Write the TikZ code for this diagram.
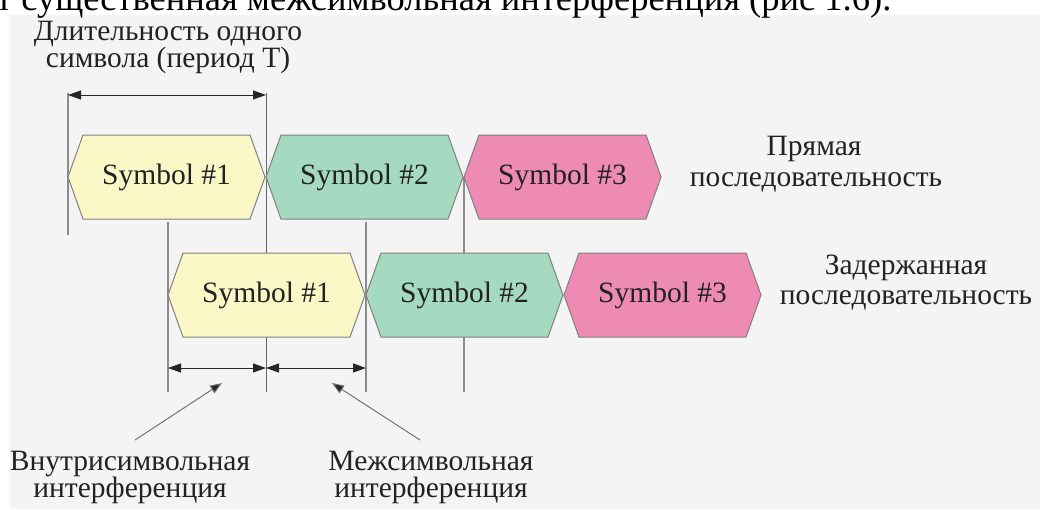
\documentclass[tikz,border=0pt]{standalone}
\usepackage{fontspec}
\setmainfont{Liberation Serif}
\usetikzlibrary{arrows.meta}
\definecolor{hexY}{HTML}{FBF8C8}
\definecolor{hexG}{HTML}{A6D9C1}
\definecolor{hexP}{HTML}{EE8BB3}
\definecolor{bgc}{HTML}{F4F4F4}
\definecolor{edgec}{HTML}{808080}
\definecolor{linec}{HTML}{8C8C8C}
\definecolor{txt}{HTML}{222222}
\newcommand\hexsym[5]{%
  \path[fill=#4, draw=edgec, line width=1pt]
    (#2,#3) -- ++(15,-42) -- ++(167,0) -- ++(15,42) -- ++(-15,42) -- ++(-167,0) -- cycle;
  \node[lbl] (#1) at (#2+98.5,#3) {#5};}
\begin{document}
\begin{tikzpicture}[x=1pt,y=-1pt,
  lbl/.style={font=\fontsize{29.5}{30}\selectfont, inner sep=0, text=txt},
  guide/.style={draw=linec, line width=1.3pt},
  dim/.style={draw=black!85, line width=1pt, {Triangle[length=13pt,width=9pt]}-{Triangle[length=13pt,width=9pt]}},
  ptr/.style={draw=black!55, line width=1pt, -{Triangle[length=12pt,width=9pt,fill=black!85]}}]
\useasboundingbox (0,0) rectangle (1040,509);
\fill[bgc] (10,15) rectangle (1040,509);
\begin{scope}
\clip (0,0) rectangle (1040,509);
\node[anchor=base west, inner sep=0, font=\fontsize{36.5}{40}\selectfont] (toptext) at (-4,10) {т существенная межсимвольная интерференция (рис 1.6).};
\end{scope}
% guide lines
\coordinate (g1a) at (68,93);   \coordinate (g1b) at (68,235);
\coordinate (g2a) at (266,93);  \coordinate (g2b) at (266,392);
\coordinate (g3a) at (168,222); \coordinate (g3b) at (168,392);
\coordinate (g4a) at (366,222); \coordinate (g4b) at (366,392);
\coordinate (g5a) at (464,177); \coordinate (g5b) at (464,392);
\draw[guide] (g1a) -- (g1b);
\draw[guide, draw=black!60, line width=1pt] (g2a) -- (g2b);
\draw[guide] (g3a) -- (g3b);
\draw[guide] (g4a) -- (g4b);
\draw[guide] (g5a) -- (g5b);
% hexagons
\hexsym{a1}{68}{177}{hexY}{Symbol \#1}
\hexsym{a2}{266}{177}{hexG}{Symbol \#2}
\hexsym{a3}{464}{177}{hexP}{Symbol \#3}
\hexsym{b1}{168}{295}{hexY}{Symbol \#1}
\hexsym{b2}{366}{295}{hexG}{Symbol \#2}
\hexsym{b3}{564}{295}{hexP}{Symbol \#3}
% dimension arrows
\coordinate (tL) at (68,95);   \coordinate (tR) at (266,95);
\draw[dim] (tL) -- (tR);
\coordinate (bL) at (168,368); \coordinate (bM) at (266,368); \coordinate (bR) at (366,368);
\draw[dim] (bL) -- (bM);
\draw[dim] (bM) -- (bR);
% labels
\node[lbl, anchor=base] (dur1) at (168,40) {Длительность одного};
\node[lbl, anchor=base] (dur2) at (168,67) {символа (период Т)};
\node[lbl, anchor=base] (dir1) at (814,155) {Прямая};
\node[lbl, anchor=base] (dir2) at (816,186) {последовательность};
\node[lbl, anchor=base] (del1) at (906,274) {Задержанная};
\node[lbl, anchor=base] (del2) at (906,304) {последовательность};
\node[lbl, anchor=base] (isi1) at (130,470) {Внутрисимвольная};
\node[lbl, anchor=base] (isi2) at (130,497) {интерференция};
\node[lbl, anchor=base] (ici1) at (431,470) {Межсимвольная};
\node[lbl, anchor=base] (ici2) at (431,497) {интерференция};
% pointers
\coordinate (p1s) at (135,440); \coordinate (p1e) at (222,383);
\coordinate (p2s) at (420,440); \coordinate (p2e) at (332,383);
\draw[ptr] (p1s) -- (p1e);
\draw[ptr] (p2s) -- (p2e);
\end{tikzpicture}
\end{document}
